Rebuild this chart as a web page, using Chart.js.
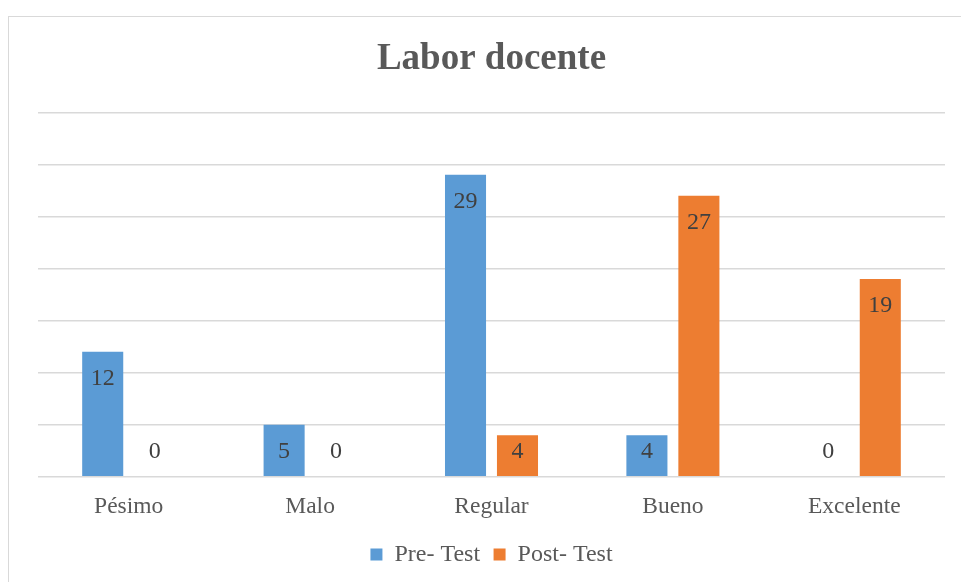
<!DOCTYPE html>
<html>
<head>
<meta charset="utf-8">
<script src="https://cdn.jsdelivr.net/npm/chart.js@4/dist/chart.umd.min.js"></script>
<style>
  body { margin: 0; background: #fff; overflow: hidden; }
  #frame { position: absolute; left: 8px; top: 16px; width: 1100px; height: 700px; border: 1px solid #d9d9d9; }
  #wrap { position: absolute; left: 0; top: 0; width: 961px; height: 582px; }
</style>
</head>
<body>
<div id="frame"></div>
<div id="wrap"><canvas id="chart" width="961" height="582"></canvas></div>
<script>
// datos
var categorias = ["Pésimo", "Malo", "Regular", "Bueno", "Excelente"];
var preTest = [12, 5, 29, 4, 0];
var postTest = [0, 0, 4, 27, 19];

// etiquetas de datos dentro del extremo de la barra
var etiquetas = {
  id: 'etiquetas',
  afterDatasetsDraw: function (chart) {
    var ctx = chart.ctx;
    var base = chart.scales.y.getPixelForValue(0);
    ctx.save();
    ctx.font = '24px "Liberation Serif", "Times New Roman", serif';
    ctx.fillStyle = '#404040';
    ctx.textAlign = 'center';
    ctx.textBaseline = 'middle';
    chart.data.datasets.forEach(function (ds, i) {
      chart.getDatasetMeta(i).data.forEach(function (bar, j) {
        var y = Math.min(bar.y + 27, base - 25);
        ctx.fillText(String(ds.data[j]), bar.x, y);
      });
    });
    ctx.restore();
  }
};

var serif = '"Liberation Serif", "Times New Roman", serif';

var chart = new Chart(document.getElementById("chart"), {
  type: 'bar',
  data: {
    labels: categorias,
    datasets: [
      { label: "Pre- Test", data: preTest, backgroundColor: "#5B9BD5" },
      { label: "Post- Test", data: postTest, backgroundColor: "#ED7D31" }
    ]
  },
  options: {
    responsive: false,
    animation: false,
    devicePixelRatio: 1,
    categoryPercentage: 0.573,
    barPercentage: 0.79,
    layout: { padding: { left: 38, right: 16, top: 0, bottom: 5.5 } },
    plugins: {
      title: {
        display: true,
        text: "Labor docente",
        color: '#595959',
        font: { family: serif, size: 37, weight: 'bold' },
        padding: { top: 37, bottom: 31 }
      },
      legend: {
        position: 'bottom',
        labels: {
          color: '#595959',
          font: { family: serif, size: 24 },
          boxWidth: 12,
          boxHeight: 12,
          padding: 13.5
        }
      },
      tooltip: { enabled: false }
    },
    scales: {
      x: {
        grid: { display: false },
        border: { display: false },
        ticks: { color: '#595959', font: { family: serif, size: 23.5 }, padding: 8 }
      },
      y: {
        min: 0,
        max: 35,
        ticks: { stepSize: 5, display: false },
        grid: { color: '#d9d9d9', lineWidth: 1.5, drawTicks: false },
        border: { display: false }
      }
    }
  },
  plugins: [etiquetas]
});
</script>
</body>
</html>
